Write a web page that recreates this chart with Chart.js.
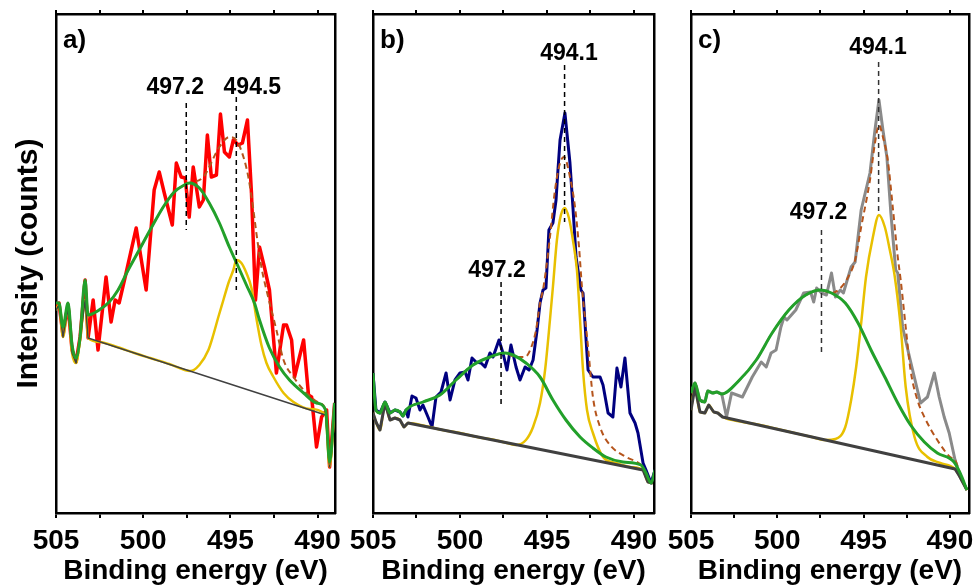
<!DOCTYPE html>
<html>
<head>
<meta charset="utf-8">
<script src="https://cdn.jsdelivr.net/npm/chart.js@4.4.0/dist/chart.umd.min.js"></script>
<style>
    body { margin: 0; background: #fff; }
    canvas { position: absolute; left: 0; top: 0; }
</style>
</head>
<body>
<canvas id="chart-a" width="980" height="588"></canvas>
<canvas id="chart-b" width="980" height="588"></canvas>
<canvas id="chart-c" width="980" height="588"></canvas>
<script>
// Binding energy ticks (major every 5 eV, minor halfway)
const xTicks = [505, 502.5, 500, 497.5, 495, 492.5, 490];

// ---- Panel a) ----
const aDataX = [505.00, 504.83, 504.60, 504.31, 504.08, 503.85, 503.62, 503.33, 503.16, 502.87, 502.59, 502.13, 501.84, 501.61, 501.38, 500.98, 500.40, 499.83, 499.37, 499.08, 498.79, 498.33, 498.10, 497.82, 497.59, 497.36, 497.13, 496.78, 496.55, 496.32, 496.09, 495.80, 495.57, 495.34, 495.06, 494.83, 494.54, 494.31, 494.02, 493.79, 493.56, 493.33, 493.05, 492.76, 492.36, 491.95, 491.78, 491.49, 491.32, 490.80, 490.52, 490.34, 490.06, 489.77, 489.48, 489.31, 489.02];
const aDataY = [206, 210, 178, 208, 163, 151, 176, 233, 175, 213, 163, 236, 191, 213, 210, 240, 285, 223, 323, 341, 320, 288, 350, 336, 335, 296, 346, 306, 313, 378, 336, 338, 399, 361, 356, 373, 368, 370, 393, 320, 213, 266, 246, 223, 140, 188, 188, 173, 136, 173, 118, 116, 66, 96, 103, 46, 110];
const aBgX = [505.00, 504.83, 504.60, 504.31, 504.08, 503.85, 503.62, 503.33, 503.16, 489.54, 489.31, 489.02];
const aBgY = [203, 208, 176, 205, 160, 150, 173, 213, 175, 98, 46, 108];
const aPeak1X = [505.00, 504.83, 504.60, 504.31, 504.08, 503.85, 503.62, 503.33, 503.16, 502.53, 501.95, 501.44, 500.86, 500.23, 499.54, 498.85, 498.22, 497.64, 497.36, 496.78, 496.21, 495.63, 495.06, 494.54, 494.08, 493.62, 493.33, 492.76, 492.18, 491.61, 490.80, 490.06, 489.54, 489.31, 489.02];
const aPeak1Y = [210, 210, 186, 210, 168, 155, 176, 233, 198, 203, 211, 223, 243, 263, 285, 306, 321, 328, 330, 325, 310, 290, 266, 246, 228, 210, 193, 165, 146, 133, 120, 110, 103, 51, 110];
const aPeak2X = [505.00, 504.83, 504.60, 504.31, 504.08, 503.85, 503.62, 503.33, 503.16, 502.50, 501.50, 500.50, 499.60, 498.50, 497.30, 496.78, 496.26, 495.98, 495.69, 495.40, 495.11, 494.83, 494.66, 494.37, 494.08, 493.79, 493.51, 493.22, 492.93, 492.53, 491.95, 491.38, 490.46, 489.54, 489.31, 489.02];
const aPeak2Y = [203, 208, 176, 205, 160, 150, 173, 213, 175, 171, 166, 160, 155, 149, 142, 148, 163, 178, 196, 213, 230, 243, 253, 250, 240, 225, 195, 168, 150, 136, 120, 111, 104, 98, 46, 108];
const aEnvX = [505.00, 504.83, 504.60, 504.31, 504.08, 503.85, 503.62, 503.33, 503.16, 502.53, 501.95, 501.44, 500.86, 500.23, 499.54, 498.85, 498.22, 497.64, 497.36, 496.55, 495.63, 495.06, 494.66, 494.25, 493.97, 493.68, 493.51, 493.22, 492.93, 492.36, 491.95, 491.38, 490.63, 489.89, 489.54, 489.31, 489.02];
const aEnvY = [210, 210, 186, 210, 168, 155, 176, 233, 198, 203, 211, 223, 243, 263, 285, 306, 321, 328, 330, 336, 366, 376, 373, 356, 336, 303, 280, 246, 223, 183, 153, 136, 120, 110, 103, 49, 110];
const aMarkX = [497.53, 494.66];
const aMarkTop = [410, 416];
const aMarkBottom = [283, 223];
const aLabels = ['497.2', '494.5'];
const aLabelX = [498.16, 493.74];
const aLabelY = [425, 425];

// ---- Panel b) ----
const bDataX = [505.00, 504.83, 504.60, 504.31, 504.02, 503.74, 503.45, 503.28, 503.10, 502.99, 502.76, 502.53, 502.30, 502.13, 501.84, 501.61, 501.38, 501.09, 500.80, 500.57, 500.29, 500.00, 499.71, 499.54, 499.31, 499.08, 498.79, 498.56, 498.28, 498.10, 497.76, 497.53, 497.30, 497.07, 496.78, 496.55, 496.26, 496.03, 495.80, 495.57, 495.40, 495.23, 495.06, 494.89, 494.66, 494.48, 494.37, 494.25, 493.97, 493.68, 493.51, 493.33, 493.05, 492.93, 492.64, 492.36, 491.95, 491.78, 491.49, 491.21, 490.98, 490.75, 490.52, 490.23, 489.94, 489.77, 489.48, 489.31, 489.02, 488.79];
const bDataY = [140, 103, 100, 111, 100, 103, 101, 97, 103, 96, 117, 115, 103, 108, 96, 86, 116, 121, 140, 113, 133, 140, 141, 133, 155, 151, 150, 146, 160, 156, 173, 160, 143, 168, 146, 133, 146, 143, 153, 183, 210, 223, 225, 283, 290, 313, 343, 373, 400, 350, 306, 256, 223, 220, 143, 136, 136, 128, 100, 96, 145, 126, 155, 100, 90, 80, 50, 43, 30, 43];
const bBgX = [505.00, 504.83, 504.60, 504.31, 504.02, 503.74, 503.45, 503.22, 502.99, 489.48, 489.20, 488.91];
const bBgY = [100, 91, 83, 110, 93, 95, 93, 86, 90, 43, 31, 30];
const bPeak1X = [505.00, 504.83, 504.60, 504.31, 504.02, 503.74, 503.45, 503.28, 503.10, 502.13, 501.15, 500.23, 499.25, 498.28, 497.41, 496.95, 496.21, 495.40, 494.66, 493.91, 493.10, 492.36, 491.61, 490.63, 489.60, 489.31, 489.02, 488.79];
const bPeak1Y = [140, 103, 100, 111, 100, 103, 101, 97, 103, 111, 118, 133, 148, 156, 160, 158, 150, 136, 113, 93, 76, 65, 56, 51, 48, 40, 30, 43];
const bPeak2X = [505.00, 504.83, 504.60, 504.31, 504.02, 503.74, 503.45, 503.22, 502.99, 502.00, 501.00, 500.00, 499.00, 498.00, 497.30, 496.78, 496.21, 495.80, 495.40, 495.11, 494.83, 494.66, 494.43, 494.20, 493.97, 493.74, 493.51, 493.28, 493.10, 492.93, 492.70, 492.36, 491.78, 491.03, 490.23, 489.48, 489.20, 488.91];
const bPeak2Y = [100, 91, 83, 110, 93, 95, 93, 86, 90, 87, 83, 80, 76, 73, 70, 68, 73, 86, 110, 143, 193, 226, 273, 298, 305, 295, 273, 243, 193, 143, 103, 80, 56, 50, 46, 43, 31, 30];
const bEnvX = [505.00, 504.83, 504.60, 504.31, 504.02, 503.74, 503.45, 503.28, 503.10, 502.13, 501.15, 500.23, 499.25, 498.28, 497.41, 496.78, 496.26, 495.92, 495.63, 495.40, 495.23, 495.06, 494.83, 494.54, 494.25, 494.02, 493.68, 493.39, 493.16, 492.99, 492.64, 492.36, 491.95, 491.38, 490.46, 489.60, 489.31, 489.02, 488.79];
const bEnvY = [140, 103, 100, 111, 100, 103, 101, 97, 103, 111, 118, 133, 148, 156, 160, 156, 156, 165, 183, 210, 223, 243, 276, 323, 350, 356, 336, 306, 266, 226, 166, 116, 86, 68, 56, 48, 40, 30, 43];
const bMarkX = [497.64, 493.99];
const bMarkTop = [231, 448];
const bMarkBottom = [106, 291];
const bLabels = ['497.2', '494.1'];
const bLabelX = [497.87, 493.74];
const bLabelY = [242, 459];

// ---- Panel c) ----
const cDataX = [505.00, 504.77, 504.48, 504.20, 504.03, 503.74, 503.51, 503.22, 502.94, 502.65, 502.02, 501.45, 500.93, 500.64, 500.36, 500.07, 499.79, 499.61, 499.44, 498.93, 498.47, 498.07, 497.89, 497.72, 497.44, 497.15, 496.86, 496.63, 496.35, 496.17, 496.00, 495.72, 495.49, 495.14, 494.63, 494.34, 494.11, 493.88, 493.65, 493.42, 493.14, 493.02, 492.74, 492.34, 491.70, 491.30, 490.90, 490.62, 490.33, 490.04, 489.70, 489.41, 489.01];
const cDataY = [120, 130, 113, 111, 122, 120, 121, 119, 96, 120, 116, 136, 151, 146, 160, 163, 186, 196, 193, 203, 220, 221, 211, 225, 220, 218, 240, 216, 223, 220, 230, 246, 251, 303, 340, 383, 413, 383, 356, 300, 243, 240, 186, 156, 110, 116, 140, 116, 96, 80, 53, 36, 23];
const cBgX = [505.00, 504.77, 504.48, 504.20, 503.97, 503.68, 503.45, 503.17, 489.70, 489.41, 489.01];
const cBgY = [103, 126, 101, 100, 108, 101, 100, 96, 44, 36, 23];
const cPeak1X = [505.00, 504.77, 504.48, 504.20, 504.03, 503.74, 503.51, 503.22, 502.19, 501.22, 500.30, 499.33, 498.35, 497.49, 496.86, 496.06, 495.32, 494.57, 493.77, 493.02, 492.28, 491.48, 490.73, 489.76, 489.41, 489.01];
const cPeak1Y = [120, 130, 113, 111, 122, 120, 121, 119, 133, 153, 180, 203, 218, 223, 220, 210, 190, 163, 136, 110, 88, 71, 60, 51, 40, 23];
const cPeak2X = [505.00, 504.77, 504.48, 504.20, 503.97, 503.68, 503.45, 503.17, 502.00, 501.00, 500.00, 499.00, 498.00, 497.20, 496.63, 496.06, 495.72, 495.43, 495.14, 494.86, 494.46, 494.11, 493.77, 493.48, 493.19, 492.85, 492.56, 492.05, 491.30, 490.56, 489.70, 489.41, 489.01];
const cPeak2Y = [103, 126, 101, 100, 108, 101, 100, 96, 91, 88, 84, 80, 76, 73, 74, 86, 113, 146, 190, 236, 276, 298, 286, 263, 236, 186, 126, 76, 56, 50, 44, 36, 23];
const cEnvX = [505.00, 504.77, 504.48, 504.20, 504.03, 503.74, 503.51, 503.22, 502.19, 501.22, 500.30, 499.33, 498.35, 497.49, 496.86, 496.46, 495.89, 495.49, 495.14, 494.63, 494.34, 494.11, 493.88, 493.60, 493.31, 493.02, 492.85, 492.56, 492.28, 491.88, 491.48, 490.73, 489.99, 489.70, 489.41, 489.01];
const cEnvY = [120, 130, 113, 111, 122, 120, 121, 119, 133, 153, 180, 203, 218, 223, 220, 223, 236, 253, 286, 333, 370, 388, 376, 353, 306, 256, 233, 186, 143, 113, 96, 73, 56, 53, 40, 23];
const cMarkX = [497.44, 494.13];
const cMarkTop = [283, 451];
const cMarkBottom = [158, 300];
const cLabels = ['497.2', '494.1'];
const cLabelX = [497.61, 494.17];
const cLabelY = [300, 465];

const FONT = '"Liberation Sans", Arial, sans-serif';
Chart.defaults.font.family = FONT;
Chart.defaults.color = '#000';

const GREEN = '#22a02a';
const YELLOW = '#e8c000';
const BG = '#404040';
const ENVELOPE = '#b5541c';

function pairs(xs, ys) {
    return xs.map((x, i) => ({ x: x, y: ys[i] }));
}

// Draws the peak position labels and the panel letter
function notesPlugin(letter, texts, xs, ys) {
    return {
        id: 'peakNotes',
        afterDatasetsDraw(chart) {
            const { ctx, chartArea, scales } = chart;
            ctx.save();
            ctx.fillStyle = '#000';
            ctx.textAlign = 'center';
            ctx.textBaseline = 'middle';
            ctx.font = 'bold 23px ' + FONT;
            texts.forEach((t, i) => {
                ctx.fillText(t, scales.x.getPixelForValue(xs[i]), scales.y.getPixelForValue(ys[i]));
            });
            ctx.textAlign = 'left';
            ctx.font = 'bold 26px ' + FONT;
            ctx.fillText(letter, chartArea.left + 7, chartArea.top + 27);
            ctx.restore();
        }
    };
}

function makePanel(id, p) {
    const datasets = [];

    // dashed peak markers
    p.markX.forEach((mx, i) => {
        datasets.push({
            data: [{ x: mx, y: p.markTop[i] }, { x: mx, y: p.markBottom[i] }],
            borderColor: p.markColor,
            borderWidth: 1.5,
            borderDash: [5, 4],
            tension: 0,
            order: 0
        });
    });

    datasets.push({
        data: p.peak1, borderColor: GREEN, borderWidth: 3,
        cubicInterpolationMode: 'monotone', order: 1
    });
    datasets.push({
        data: p.env, borderColor: ENVELOPE, borderWidth: 2, borderDash: [6, 4],
        cubicInterpolationMode: 'monotone', order: 2
    });
    datasets.push({
        data: p.bg, borderColor: BG, borderWidth: p.bgWidth,
        tension: 0, order: 3
    });
    datasets.push({
        data: p.peak2, borderColor: YELLOW, borderWidth: 2.5,
        cubicInterpolationMode: 'monotone', order: 4
    });
    datasets.push({
        data: p.raw, borderColor: p.rawColor, borderWidth: p.rawWidth,
        tension: 0, order: 5
    });

    const sharedX = {
        type: 'linear',
        reverse: true,
        min: p.xMin,
        max: 505,
        afterBuildTicks: (scale) => { scale.ticks = xTicks.map(v => ({ value: v })); },
        border: { color: '#000', width: 2.5 },
        grid: { drawOnChartArea: false, color: '#000', lineWidth: 2 }
    };

    return new Chart(document.getElementById(id), {
        type: 'line',
        data: { datasets },
        options: {
            responsive: false,
            animation: false,
            layout: { padding: 0 },
            elements: { point: { radius: 0 }, line: { borderJoinStyle: 'round' } },
            plugins: { legend: { display: false }, tooltip: { enabled: false } },
            scales: {
                x: {
                    ...sharedX,
                    position: 'bottom',
                    grid: { ...sharedX.grid, tickLength: 5 },
                    ticks: {
                        autoSkip: false,
                        maxRotation: 0,
                        padding: 6,
                        font: { size: 28, weight: 'bold' },
                        callback: (v) => (v % 5 === 0 ? String(v) : '')
                    },
                    title: {
                        display: true,
                        text: 'Binding energy (eV)',
                        font: { size: 28, weight: 'bold' },
                        padding: { top: 0, bottom: 0 }
                    },
                    afterFit: (scale) => { scale.height = 75; }
                },
                xTop: {
                    ...sharedX,
                    position: 'top',
                    grid: { ...sharedX.grid, tickLength: 4 },
                    ticks: { display: false },
                    afterFit: (scale) => { scale.height = 14; }
                },
                y: {
                    position: 'left',
                    min: 0,
                    max: 499,
                    grid: { display: false },
                    ticks: { display: false },
                    border: { color: '#000', width: 2.5 },
                    title: {
                        display: !!p.yTitle,
                        text: p.yTitle || '',
                        font: { size: 30, weight: 'bold' },
                        padding: { top: 11, bottom: 0 }
                    },
                    afterFit: (scale) => { scale.width = p.left; }
                },
                yRight: {
                    position: 'right',
                    min: 0,
                    max: 499,
                    grid: { display: false },
                    ticks: { display: false },
                    border: { color: '#000', width: 2.5 },
                    afterFit: (scale) => { scale.width = 980 - p.right; }
                }
            }
        },
        plugins: [notesPlugin(p.letter, p.labels, p.labelX, p.labelY)]
    });
}

makePanel('chart-a', {
    left: 56, right: 335, xMin: 489, letter: 'a)', yTitle: 'Intensity (counts)',
    raw: pairs(aDataX, aDataY), rawColor: '#ff0000', rawWidth: 3.5,
    bg: pairs(aBgX, aBgY), bgWidth: 1.5,
    peak1: pairs(aPeak1X, aPeak1Y), peak2: pairs(aPeak2X, aPeak2Y), env: pairs(aEnvX, aEnvY),
    markX: aMarkX, markTop: aMarkTop, markBottom: aMarkBottom, markColor: '#000',
    labels: aLabels, labelX: aLabelX, labelY: aLabelY
});

makePanel('chart-b', {
    left: 373, right: 654, xMin: 488.85, letter: 'b)',
    raw: pairs(bDataX, bDataY), rawColor: '#00007f', rawWidth: 3,
    bg: pairs(bBgX, bBgY), bgWidth: 3,
    peak1: pairs(bPeak1X, bPeak1Y), peak2: pairs(bPeak2X, bPeak2Y), env: pairs(bEnvX, bEnvY),
    markX: bMarkX, markTop: bMarkTop, markBottom: bMarkBottom, markColor: '#000',
    labels: bLabels, labelX: bLabelX, labelY: bLabelY
});

makePanel('chart-c', {
    left: 691, right: 972, xMin: 488.9, letter: 'c)',
    raw: pairs(cDataX, cDataY), rawColor: '#8a8a8a', rawWidth: 3,
    bg: pairs(cBgX, cBgY), bgWidth: 3,
    peak1: pairs(cPeak1X, cPeak1Y), peak2: pairs(cPeak2X, cPeak2Y), env: pairs(cEnvX, cEnvY),
    markX: cMarkX, markTop: cMarkTop, markBottom: cMarkBottom, markColor: '#333',
    labels: cLabels, labelX: cLabelX, labelY: cLabelY
});
</script>
</body>
</html>
